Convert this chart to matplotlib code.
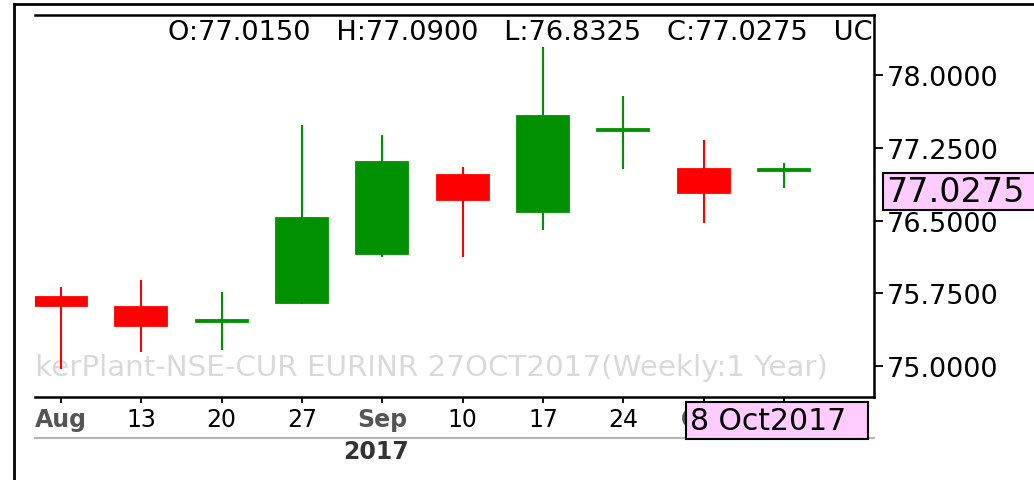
import matplotlib
matplotlib.use("Agg")
import matplotlib.pyplot as plt
from matplotlib.lines import Line2D
from matplotlib.patches import Rectangle
from matplotlib.ticker import FormatStrFormatter

plt.rcParams["font.family"] = "DejaVu Sans"

# weekly EURINR candles, Aug-Oct 2017
week_labels = ["Aug", "13", "20", "27", "Sep", "10", "17", "24", "Oct", "8"]
opens = [75.711, 75.608, 75.455, 75.649, 76.155, 76.969, 76.588, 77.425, 77.031, 77.0150]
highs = [75.814, 75.887, 75.763, 77.485, 77.381, 77.052, 78.289, 77.784, 77.330, 77.0900]
lows = [74.969, 75.144, 75.165, 75.640, 76.124, 76.124, 76.402, 77.031, 76.474, 76.8325]
closes = [75.619, 75.412, 75.470, 76.526, 77.103, 76.711, 77.577, 77.440, 76.784, 77.0275]
month_labels = ["Aug", "Sep", "Oct"]
year_label = "2017"
last_date = "8 Oct2017"
y_ticks = [75.0, 75.75, 76.5, 77.25, 78.0]

up_color = "#009000"
down_color = "#ff0000"

W, H = 1034, 481
fig = plt.figure(figsize=(W / 100, H / 100), dpi=100)


def fx(px):
    return px / W


def fy(py):
    return 1 - py / H


ax = fig.add_axes([fx(35), fy(398), fx(874) - fx(35), fy(16) - fy(398)])

# candles
body_w = 0.648
for i in range(len(opens)):
    c = up_color if closes[i] >= opens[i] else down_color
    ax.vlines(i, lows[i], highs[i], color=c, lw=1.5, zorder=2)
    lo = min(opens[i], closes[i])
    ax.bar(i, abs(closes[i] - opens[i]), bottom=lo, width=body_w,
           color=c, edgecolor=c, lw=1.3, zorder=3)

ax.set_xlim(-0.324, 10.12)
ax.set_ylim(74.68, 78.62)

# frame
ax.spines["left"].set_visible(False)
for s in ["top", "right", "bottom"]:
    ax.spines[s].set_linewidth(1.8)

ax.yaxis.tick_right()
ax.set_yticks(y_ticks)
ax.yaxis.set_major_formatter(FormatStrFormatter("%.4f"))
ax.tick_params(axis="y", length=6.5, width=1.3, pad=3, labelsize=19.5)

ax.set_xticks(range(len(week_labels)))
ax.set_xticklabels(week_labels)
ax.tick_params(axis="x", length=4.5, width=1.3, pad=3, labelsize=17)
for lab in ax.get_xticklabels():
    if lab.get_text() in month_labels:
        lab.set_fontweight("bold")
        lab.set_color("#555555")

# OHLC header and watermark
header = "O:%.4f   H:%.4f   L:%.4f   C:%.4f   UC" % (opens[-1], highs[-1], lows[-1], closes[-1])
ax.text((168 - 35) / 839, (398 - 33.5) / 382, header, transform=ax.transAxes,
        fontsize=19.6, ha="left", va="center", clip_on=True)
ax.text((828 - 35) / 839, (398 - 368) / 382,
        "TickerPlant-NSE-CUR EURINR 27OCT2017(Weekly:1 Year)",
        transform=ax.transAxes, fontsize=21.2, color="#d9d9d9",
        ha="right", va="center", clip_on=True, zorder=1)

# year label under the axis
fig.text(fx(376), fy(452), year_label, fontsize=17, fontweight="bold",
         color="#333333", ha="center", va="center")

# outer frame and axis band line
fig.add_artist(Line2D([fx(14), fx(14)], [fy(5), 0], color="black", lw=2,
                      transform=fig.transFigure))
fig.add_artist(Line2D([fx(14), 1], [fy(5), fy(5)], color="black", lw=2,
                      transform=fig.transFigure))
fig.add_artist(Line2D([fx(35), fx(874)], [fy(439), fy(439)], color="#b5b5b5",
                      lw=1.5, transform=fig.transFigure))

# last price tag
fig.add_artist(Rectangle((fx(883), fy(211)), 1 - fx(883) + 0.02, fy(174) - fy(211),
                         fc="#ffccff", ec="black", lw=1.5, transform=fig.transFigure,
                         zorder=5))
fig.text(fx(886), fy(193), "%.4f" % closes[-1], fontsize=24, ha="left",
         va="center", zorder=6)

# last date tag
fig.add_artist(Rectangle((fx(686), fy(440)), fx(868) - fx(686), fy(403) - fy(440),
                         fc="#ffccff", ec="black", lw=1.5, transform=fig.transFigure,
                         zorder=5))
fig.text(fx(690), fy(422), last_date, fontsize=21.5, ha="left", va="center", zorder=6)

fig.savefig("out.png", dpi=100)
